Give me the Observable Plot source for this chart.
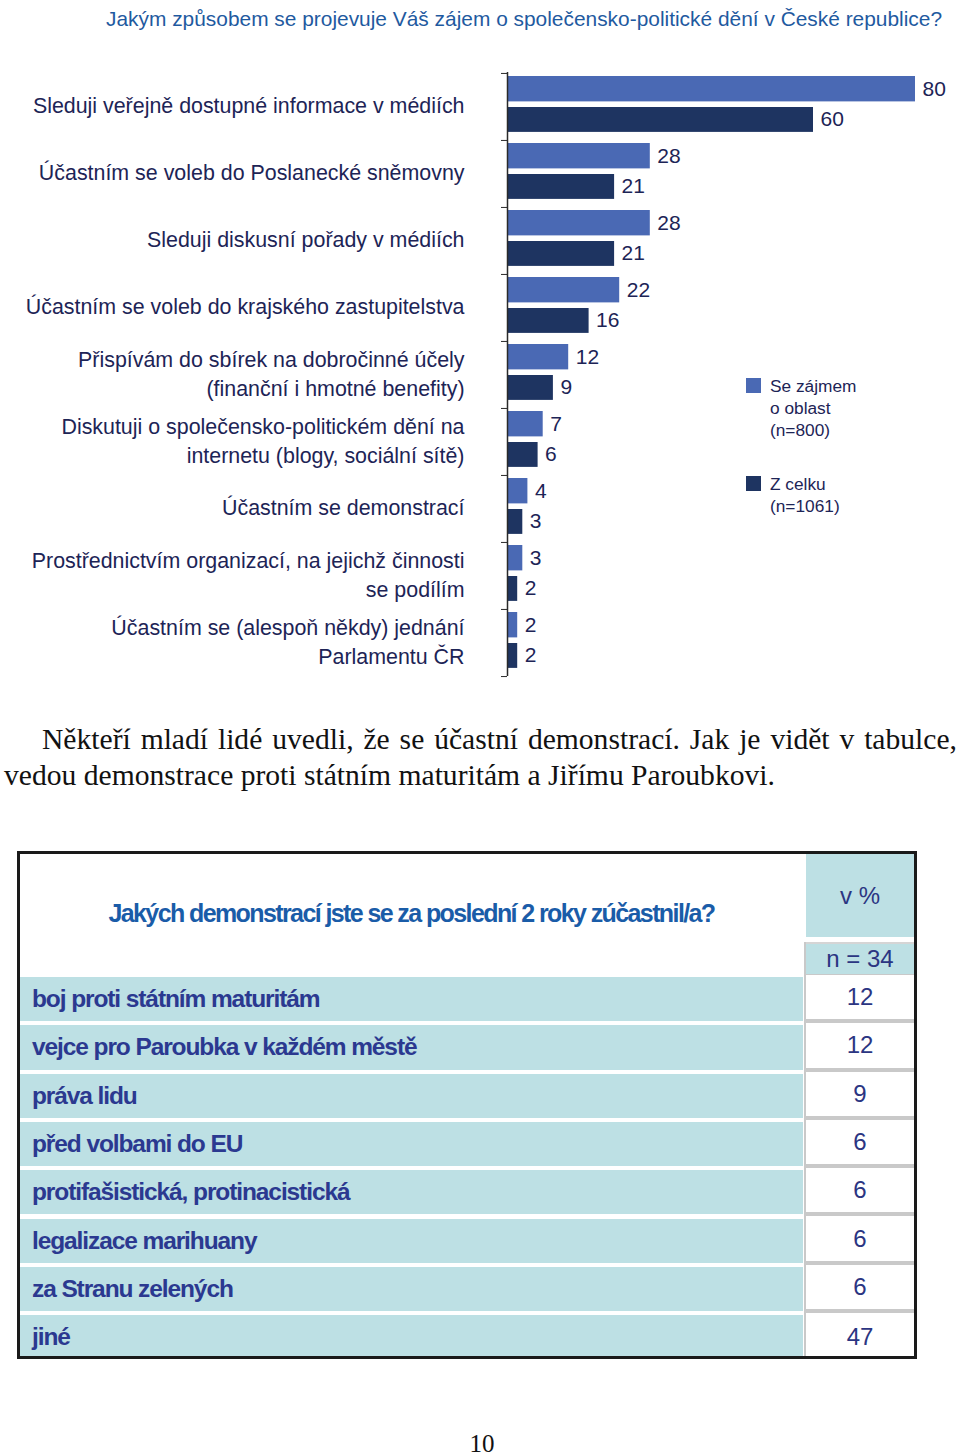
<!DOCTYPE html>
<html>
<head>
<meta charset="utf-8">
<script src="https://cdn.jsdelivr.net/npm/d3@7"></script>
<script src="https://cdn.jsdelivr.net/npm/@observablehq/plot@0.6"></script>
<style>
  html, body { margin: 0; padding: 0; background: #fff; }
  body { width: 960px; height: 1456px; position: relative; overflow: hidden; font-family: "Liberation Sans", Arial, sans-serif; }
  .abs { position: absolute; }
  #title { top: 7px; left: 106px; font-size: 20.9px; line-height: 24px; color: #1f5aa0; white-space: nowrap; }
  #chart { top: 40px; left: 0; }
  .legsw { width: 15px; height: 15px; }
  .legtx { font-size: 17.3px; line-height: 22px; color: #1d2456; white-space: pre; }
  #para { top: 721px; left: 4px; width: 953px; font-family: "Liberation Serif", "Times New Roman", serif; font-size: 29.6px; line-height: 36px; color: #111; text-align: justify; text-indent: 38px; }
  #table { top: 851px; left: 17px; width: 894px; height: 502px; border: 3px solid #1a1a1a; background: #fff; overflow: hidden; }
  .qcell { color: #1a5ca8; font-weight: bold; font-size: 25px; letter-spacing: -1.6px; white-space: nowrap; }
  .rowl { background: #bde0e4; color: #2b3990; font-weight: bold; font-size: 24.5px; letter-spacing: -1.1px; box-sizing: border-box; padding-left: 12px; display: flex; align-items: center; white-space: nowrap; }
  .rowr { background: #fff; color: #2b3582; font-size: 24px; display: flex; align-items: center; justify-content: center; box-sizing: border-box; border-bottom: 4px solid #c9c9c9; }
  .hdr { background: #bde0e4; color: #2b3582; display: flex; align-items: center; justify-content: center; box-sizing: border-box; }
  #pagenum { top: 1430px; left: 0; width: 964px; text-align: center; font-family: "Liberation Serif", serif; font-size: 25px; color: #111; }
</style>
</head>
<body>
<div id="title" class="abs"></div>
<div id="chart" class="abs"></div>
<div id="legend"></div>
<div id="para" class="abs"></div>
<div id="table" class="abs"></div>
<div id="pagenum" class="abs"></div>
<script>
// ---- Chart data ----
const chartTitle = "Jakým způsobem se projevuje Váš zájem o společensko-politické dění v České republice?";
const categories = [
  "Sleduji veřejně dostupné informace v médiích",
  "Účastním se voleb do Poslanecké sněmovny",
  "Sleduji diskusní pořady v médiích",
  "Účastním se voleb do krajského zastupitelstva",
  "Přispívám do sbírek na dobročinné účely\n(finanční i hmotné benefity)",
  "Diskutuji o společensko-politickém dění na\ninternetu (blogy, sociální sítě)",
  "Účastním se demonstrací",
  "Prostřednictvím organizací, na jejichž činnosti\nse podílím",
  "Účastním se (alespoň někdy) jednání\nParlamentu ČR"
];
const interested = [80, 28, 28, 22, 12, 7, 4, 3, 2];   // Se zájmem o oblast (n=800)
const overall    = [60, 21, 21, 16, 9, 6, 3, 2, 2];    // Z celku (n=1061)
const seriesNames = ["Se zájmem\no oblast\n(n=800)", "Z celku\n(n=1061)"];

// ---- Text / table data ----
const paragraph = "Někteří mladí lidé uvedli, že se účastní demonstrací. Jak je vidět v tabulce, vedou demonstrace proti státním maturitám a Jiřímu Paroubkovi.";
const tableQuestion = "Jakých demonstrací jste se za poslední 2 roky zúčastnil/a?";
const tableUnit = "v %";
const tableN = "n = 34";
const demoTypes = [
  "boj proti státním maturitám",
  "vejce pro Paroubka v každém městě",
  "práva lidu",
  "před volbami do EU",
  "protifašistická, protinacistická",
  "legalizace marihuany",
  "za Stranu zelených",
  "jiné"
];
const demoShares = [12, 12, 9, 6, 6, 6, 6, 47];
const pageNumber = "10";

// ---- Colours ----
const lightBlue = "#4a69b4";
const darkBlue = "#1e3461";
const textNavy = "#1d2456";

document.getElementById("title").textContent = chartTitle;

const lightData = categories.map((c, i) => ({cat: c, value: interested[i]}));
const darkData = categories.map((c, i) => ({cat: c, value: overall[i]}));

const H = 660, MT = 32, MB = 24;
const band = (H - MT - MB) / categories.length;

const chart = Plot.plot({
  width: 960,
  height: H,
  marginTop: MT,
  marginBottom: MB,
  marginLeft: 507,
  marginRight: 45,
  x: {domain: [0, 80], axis: null},
  y: {domain: categories, padding: 0, label: null},
  style: {fontFamily: "'Liberation Sans', Arial, sans-serif", color: textNavy, background: "transparent"},
  marks: [
    Plot.barX(lightData, {x: "value", y: "cat", fill: lightBlue, insetTop: 3, insetBottom: band - 28.5}),
    Plot.barX(darkData, {x: "value", y: "cat", fill: darkBlue, insetTop: 34, insetBottom: band - 59}),
    Plot.text(lightData, {x: "value", y: "cat", text: "value", dx: 7, dy: -17.5, textAnchor: "start", fontSize: 21, fill: textNavy}),
    Plot.text(darkData, {x: "value", y: "cat", text: "value", dx: 7, dy: 12.5, textAnchor: "start", fontSize: 21, fill: textNavy}),
    Plot.ruleX([0], {stroke: "#2a2a2a", strokeWidth: 1.5}),
    Plot.axisY({anchor: "left", label: null, tickSize: 0, tickPadding: 43, fontSize: 21.4, lineHeight: 1.35, dy: -3, fill: textNavy}),
    Plot.axisY({anchor: "left", label: null, tickSize: 6, tickFormat: () => "", dy: -band / 2, stroke: "#2a2a2a"}),
    Plot.axisY([categories[categories.length - 1]], {anchor: "left", label: null, tickSize: 6, tickFormat: () => "", dy: band / 2, stroke: "#2a2a2a"})
  ]
});
document.getElementById("chart").appendChild(chart);

// ---- Legend ----
const legend = document.getElementById("legend");
const legendColors = [lightBlue, darkBlue];
const legendTops = [378, 476];
seriesNames.forEach((name, i) => {
  const sw = document.createElement("div");
  sw.className = "abs legsw";
  sw.style.left = "746px";
  sw.style.top = legendTops[i] + "px";
  sw.style.background = legendColors[i];
  legend.appendChild(sw);
  const tx = document.createElement("div");
  tx.className = "abs legtx";
  tx.style.left = "770px";
  tx.style.top = (legendTops[i] - 3) + "px";
  tx.textContent = name;
  legend.appendChild(tx);
});

// ---- Paragraph ----
document.getElementById("para").textContent = paragraph;

// ---- Table ----
const table = document.getElementById("table");
function addDiv(cls, left, top, width, height, text) {
  const d = document.createElement("div");
  d.className = "abs " + cls;
  d.style.left = left + "px";
  d.style.top = top + "px";
  d.style.width = width + "px";
  d.style.height = height + "px";
  if (text != null) d.textContent = text;
  table.appendChild(d);
  return d;
}
// header
const q = addDiv("qcell", 0, 0, 783, 118, tableQuestion);
q.style.display = "flex"; q.style.alignItems = "center"; q.style.justifyContent = "center";
const vh = addDiv("hdr", 786, 0, 108, 83, tableUnit);
vh.style.fontSize = "24px";
const nh = addDiv("hdr", 786, 88, 108, 36, tableN);
nh.style.fontSize = "24px"; nh.style.borderBottom = "4px solid #c9c9c9"; nh.style.borderTop = "2px solid #d5d5d5";
// column separator
addDiv("", 784, 88, 2, 420).style.background = "#c9c9c9";
// rows
const rowTop = 121, rowH = 48.3;
demoTypes.forEach((t, i) => {
  const top = rowTop + i * rowH;
  addDiv("rowl", 0, top + 2, 783, rowH - 4, t);
  const r = addDiv("rowr", 786, top, 108, rowH, String(demoShares[i]));
  if (i === demoTypes.length - 1) r.style.borderBottom = "none";
});

document.getElementById("pagenum").textContent = pageNumber;
</script>
</body>
</html>
